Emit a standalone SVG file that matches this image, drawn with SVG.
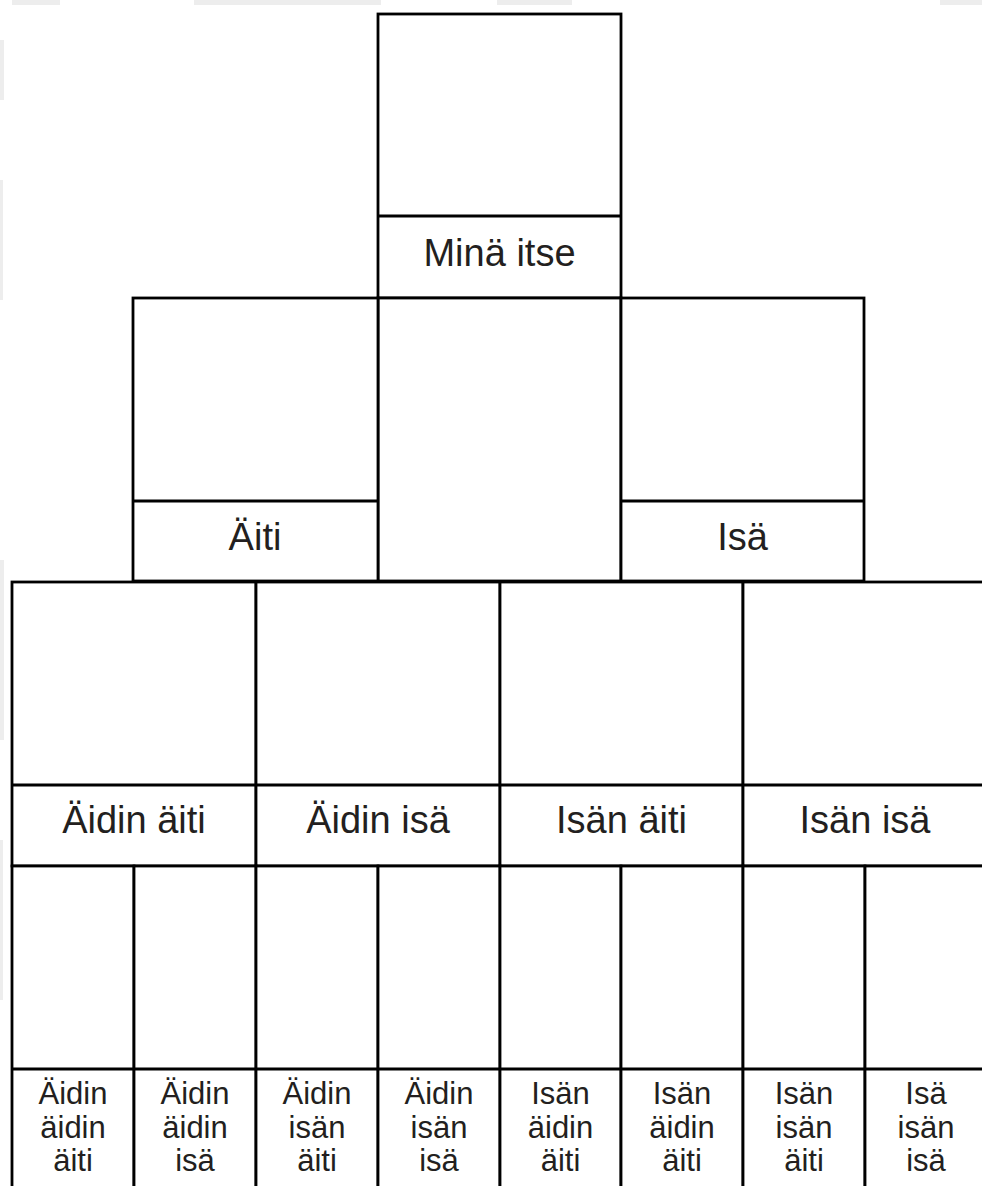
<svg xmlns="http://www.w3.org/2000/svg" width="982" height="1186" viewBox="0 0 982 1186">
  <style>
    .box { fill: #ffffff; stroke: #000000; stroke-width: 2.8; }
    .div { stroke: #000000; stroke-width: 2.8; }
    .lbl { font-family: "Liberation Sans", Arial, sans-serif; fill: #231f20; text-anchor: middle; }
    .big { font-size: 38px; }
    .small { font-size: 31px; }
    .edge { fill: #ededed; }
  </style>
  <rect x="0" y="0" width="982" height="1186" fill="#ffffff"/>
  <g id="edges">
    <rect class="edge" x="12" y="0" width="48" height="5"/>
    <rect class="edge" x="194" y="0" width="187" height="5"/>
    <rect class="edge" x="497" y="0" width="75" height="5"/>
    <rect class="edge" x="940" y="0" width="42" height="5"/>
    <rect class="edge" x="0" y="40" width="4" height="60"/>
    <rect class="edge" x="0" y="180" width="3" height="120"/>
    <rect class="edge" x="0" y="560" width="4" height="180"/>
    <rect class="edge" x="0" y="840" width="3" height="160"/>
  </g>

  <g id="self">
    <rect class="box" x="378" y="14" width="243" height="284"/>
    <line class="div" x1="378" y1="216" x2="621" y2="216"/>
    <text class="lbl big" x="499.5" y="266">Minä itse</text>
  </g>

  <g id="center-box">
    <rect class="box" x="378" y="298" width="243" height="283"/>
  </g>

  <g id="mother">
    <rect class="box" x="133" y="298" width="245" height="283"/>
    <line class="div" x1="133" y1="501" x2="378" y2="501"/>
    <text class="lbl big" x="255" y="550">Äiti</text>
  </g>

  <g id="father">
    <rect class="box" x="621" y="298" width="243" height="283"/>
    <line class="div" x1="621" y1="501" x2="864" y2="501"/>
    <text class="lbl big" x="742.5" y="550">Isä</text>
  </g>

  <g id="mm">
    <rect class="box" x="12" y="582" width="244" height="284"/>
    <line class="div" x1="12" y1="785" x2="256" y2="785"/>
    <text class="lbl big" x="134" y="833">Äidin äiti</text>
  </g>
  <g id="mf">
    <rect class="box" x="256" y="582" width="244" height="284"/>
    <line class="div" x1="256" y1="785" x2="500" y2="785"/>
    <text class="lbl big" x="378" y="833">Äidin isä</text>
  </g>
  <g id="fm">
    <rect class="box" x="500" y="582" width="243" height="284"/>
    <line class="div" x1="500" y1="785" x2="743" y2="785"/>
    <text class="lbl big" x="621.5" y="833">Isän äiti</text>
  </g>
  <g id="ff">
    <rect class="box" x="743" y="582" width="244" height="284"/>
    <line class="div" x1="743" y1="785" x2="987" y2="785"/>
    <text class="lbl big" x="865" y="833">Isän isä</text>
  </g>

  <g id="mmm">
    <rect class="box" x="12" y="866" width="122" height="330"/>
    <line class="div" x1="12" y1="1069" x2="134" y2="1069"/>
    <text class="lbl small" x="73" y="1104">Äidin</text>
    <text class="lbl small" x="73" y="1137.5">äidin</text>
    <text class="lbl small" x="73" y="1171">äiti</text>
  </g>
  <g id="mmf">
    <rect class="box" x="134" y="866" width="122" height="330"/>
    <line class="div" x1="134" y1="1069" x2="256" y2="1069"/>
    <text class="lbl small" x="195" y="1104">Äidin</text>
    <text class="lbl small" x="195" y="1137.5">äidin</text>
    <text class="lbl small" x="195" y="1171">isä</text>
  </g>
  <g id="mfm">
    <rect class="box" x="256" y="866" width="122" height="330"/>
    <line class="div" x1="256" y1="1069" x2="378" y2="1069"/>
    <text class="lbl small" x="317" y="1104">Äidin</text>
    <text class="lbl small" x="317" y="1137.5">isän</text>
    <text class="lbl small" x="317" y="1171">äiti</text>
  </g>
  <g id="mff">
    <rect class="box" x="378" y="866" width="122" height="330"/>
    <line class="div" x1="378" y1="1069" x2="500" y2="1069"/>
    <text class="lbl small" x="439" y="1104">Äidin</text>
    <text class="lbl small" x="439" y="1137.5">isän</text>
    <text class="lbl small" x="439" y="1171">isä</text>
  </g>
  <g id="fmm">
    <rect class="box" x="500" y="866" width="121" height="330"/>
    <line class="div" x1="500" y1="1069" x2="621" y2="1069"/>
    <text class="lbl small" x="560.5" y="1104">Isän</text>
    <text class="lbl small" x="560.5" y="1137.5">äidin</text>
    <text class="lbl small" x="560.5" y="1171">äiti</text>
  </g>
  <g id="fmf">
    <rect class="box" x="621" y="866" width="122" height="330"/>
    <line class="div" x1="621" y1="1069" x2="743" y2="1069"/>
    <text class="lbl small" x="682" y="1104">Isän</text>
    <text class="lbl small" x="682" y="1137.5">äidin</text>
    <text class="lbl small" x="682" y="1171">äiti</text>
  </g>
  <g id="ffm">
    <rect class="box" x="743" y="866" width="122" height="330"/>
    <line class="div" x1="743" y1="1069" x2="865" y2="1069"/>
    <text class="lbl small" x="804" y="1104">Isän</text>
    <text class="lbl small" x="804" y="1137.5">isän</text>
    <text class="lbl small" x="804" y="1171">äiti</text>
  </g>
  <g id="fff">
    <rect class="box" x="865" y="866" width="122" height="330"/>
    <line class="div" x1="865" y1="1069" x2="987" y2="1069"/>
    <text class="lbl small" x="926" y="1104">Isä</text>
    <text class="lbl small" x="926" y="1137.5">isän</text>
    <text class="lbl small" x="926" y="1171">isä</text>
  </g>

  <g id="connectors"/>
</svg>
